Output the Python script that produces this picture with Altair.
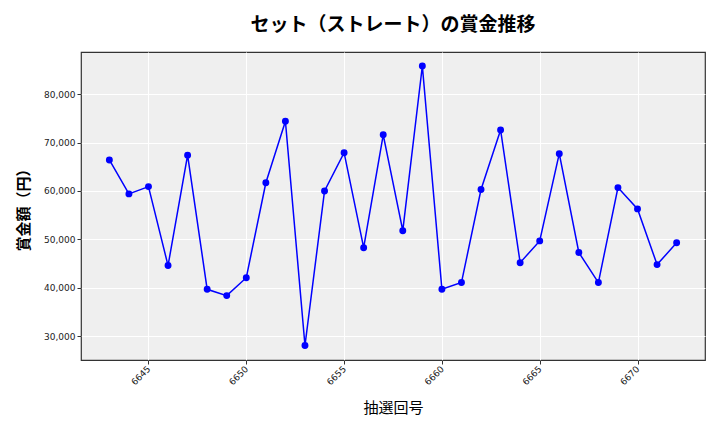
import altair as alt
import pandas as pd

draws = list(range(6643, 6673))
prizes = [66400, 59400, 60900, 44600, 67400, 39700, 38400, 42100, 61700, 74400,
          28100, 60000, 67900, 48300, 71600, 51800, 85800, 39700, 41100, 60300,
          72600, 45200, 49700, 67700, 47300, 41100, 60700, 56300, 44800, 49300]

x_ticks = [6645, 6650, 6655, 6660, 6665, 6670]
y_ticks = [30000, 40000, 50000, 60000, 70000, 80000]

df = pd.DataFrame({"draw": draws, "prize": prizes})

jp = "Noto Sans CJK JP"

x = alt.X("draw:Q", title="抽選回号",
          scale=alt.Scale(domain=[6641.55, 6673.45], nice=False, zero=False),
          axis=alt.Axis(values=x_ticks, labelExpr="format(datum.value, 'd')",
                        labelAngle=315, labelAlign="right", labelBaseline="middle",
                        labelFont="DejaVu Sans", labelFontSize=9, labelColor="#222",
                        titleFont=jp, titleFontSize=15, titleFontWeight="normal", titleColor="#000",
                        titlePadding=14, domain=False, tickColor="#333", tickSize=4,
                        grid=True, gridColor="white", gridWidth=1, labelPadding=3))
y = alt.Y("prize:Q", title="賞金額（円）",
          scale=alt.Scale(domain=[25110, 88690], nice=False, zero=False),
          axis=alt.Axis(values=y_ticks, labelExpr="format(datum.value, ',')",
                        labelFont="DejaVu Sans", labelFontSize=9,
                        labelColor="#222", titleFont=jp, titleFontSize=15, titleFontWeight="bold",
                        titleColor="#000", titlePadding=12, domain=False, tickColor="#333",
                        tickSize=4, grid=True, gridColor="white", gridWidth=1))

line = alt.Chart(df).mark_line(color="#0000ff", strokeWidth=1.5).encode(x=x, y=y)
pts = alt.Chart(df).mark_circle(color="#0000ff", opacity=1, size=48).encode(x=x, y=y)

chart = (line + pts).properties(
    width=624, height=308,
    title=alt.TitleParams("セット（ストレート）の賞金推移", font=jp, fontSize=19,
                          fontWeight="bold", color="#000", offset=17, anchor="middle"),
    autosize=alt.AutoSizeParams(type="none"),
    padding={"left": 73, "top": 44, "right": 7, "bottom": 64},
).configure_view(fill="#efefef", stroke="#333333", strokeWidth=1.2)

chart.save("out.html", embed_options={"renderer": "svg", "actions": False})
